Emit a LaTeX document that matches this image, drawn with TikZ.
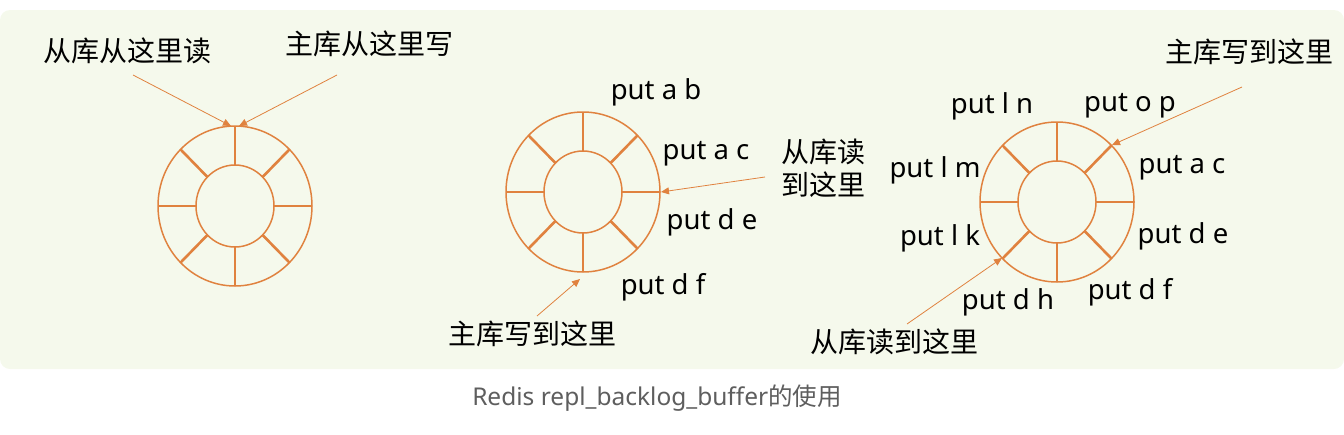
\documentclass[tikz,border=0pt]{standalone}
\usepackage{fontspec}
\setmainfont{Noto Sans}
\newfontfamily\cjk{Noto Sans CJK SC}
\usetikzlibrary{arrows.meta}
\definecolor{ringorange}{HTML}{E0823F}
\definecolor{bggreen}{HTML}{F5F9EC}
\definecolor{capgrey}{HTML}{5E5E5E}

\begin{document}
\begin{tikzpicture}[x=1pt,y=-1pt,
  ring/.style={draw=ringorange, line width=1.5pt},
  spoke/.style={draw=ringorange, line width=2.6pt},
  pointer/.style={draw=ringorange, line width=0.8pt, -{Triangle[length=8pt,width=7pt]}},
  cmd/.style={font=\fontsize{27.5}{32}\selectfont, inner sep=0pt},
  note/.style={font=\cjk\fontsize{28}{33}\selectfont, inner sep=0pt, align=center}]
\useasboundingbox (0,0) rectangle (1344,434);
\fill[bggreen, rounded corners=10pt] (0,10) rectangle (1344,369);
% ring buffers
\coordinate (c1) at (235,206);
\coordinate (c2) at (583,192);
\coordinate (c3) at (1057,202);
\foreach \c in {c1,c2,c3}{
  \draw[ring] (\c) ellipse [x radius=77pt, y radius=80pt];
  \draw[ring] (\c) ellipse [x radius=39pt, y radius=41pt];
  \foreach \a in {0,45,...,315}
    \draw[spoke, shift={(\c)}] (\a:39pt and 41pt) -- (\a:77pt and 80pt);
}
% first buffer
\node[note] (r1) at (127,51) {从库从这里读};
\node[note] (w1) at (369,44) {主库从这里写};
\coordinate (s1) at (133,75);
\coordinate (t1) at (231,126);
\coordinate (s2) at (337,75);
\coordinate (t2) at (239,126);
\draw[pointer] (s1) -- (t1);
\draw[pointer] (s2) -- (t2);
% second buffer
\node[cmd] (ab) at (656,92) {put a b};
\node[cmd] (ac) at (706,154) {put a c};
\node[cmd] (de) at (712,222) {put d e};
\node[cmd] (df) at (663,287) {put d f};
\node[note] (r2) at (823,168) {从库读\\到这里};
\node[note] (w2) at (532,334) {主库写到这里};
\coordinate (s3) at (765,177);
\coordinate (t3) at (661,192);
\coordinate (s4) at (537,316);
\coordinate (t4) at (580,279);
\draw[pointer] (s3) -- (t3);
\draw[pointer] (s4) -- (t4);
% third buffer
\node[cmd] (ln) at (992,106) {put l n};
\node[cmd] (op) at (1130,106) {put o p};
\node[cmd] (lm) at (935,170) {put l m};
\node[cmd] (ac3) at (1182,168) {put a c};
\node[cmd] (lk) at (940,238) {put l k};
\node[cmd] (de3) at (1183,236) {put d e};
\node[cmd] (dh) at (1008,302) {put d h};
\node[cmd] (df3) at (1130,292) {put d f};
\node[note] (w3) at (1249,52) {主库写到这里};
\node[note] (r3) at (894,342) {从库读到这里};
\coordinate (s5) at (1242,87);
\coordinate (t5) at (1112,145);
\coordinate (s6) at (907,324);
\coordinate (t6) at (1002,258);
\draw[pointer] (s5) -- (t5);
\draw[pointer] (s6) -- (t6);
% caption
\node[font=\fontsize{24.5}{28}\selectfont, text=capgrey] (cap) at (657,398) {Redis repl\_backlog\_buffer{\cjk 的使用}};
\end{tikzpicture}
\end{document}
